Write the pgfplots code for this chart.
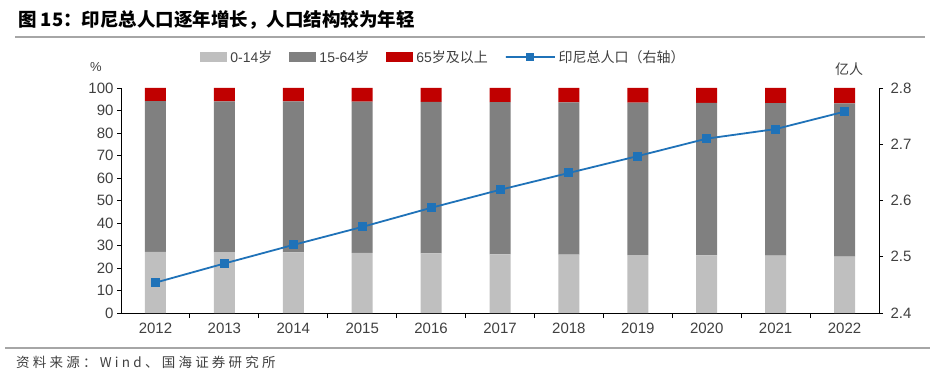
\documentclass[border=0pt]{standalone}
\usepackage{pgfplots}
\pgfplotsset{compat=1.18}
\usepackage{pgfplotstable}
\usepackage{fontspec}
\setmainfont{Liberation Sans}
\newfontfamily\cjk{Noto Sans CJK SC}
\definecolor{lightg}{HTML}{BFBFBF}
\definecolor{darkg}{HTML}{808080}
\definecolor{redc}{HTML}{C00000}
\definecolor{blueline}{HTML}{1F72B8}
\definecolor{txt}{HTML}{404040}
\definecolor{rule}{HTML}{A6A6A6}

\pgfplotsset{
  longline legend/.style={legend image code/.code={\draw[mark repeat=2, mark phase=2, ##1] plot coordinates {(0pt,0pt) (14pt,0pt) (28pt,0pt)};}},
  boxlegend/.style={legend image code/.code={\fill[##1] (0pt,-5pt) rectangle (27pt,5pt);}},
}

\pgfplotstableread{
x a b c p
0 27.2 67.0 5.8 2.454
1 27.1 67.0 5.9 2.488
2 26.9 67.1 6.0 2.521
3 26.7 67.2 6.1 2.553
4 26.5 67.3 6.2 2.587
5 26.1 67.6 6.3 2.619
6 26.0 67.6 6.4 2.649
7 25.7 67.8 6.5 2.679
8 25.6 67.8 6.6 2.710
9 25.5 67.8 6.7 2.727
10 25.1 68.1 6.8 2.758
}\agedata

\begin{document}
\begin{tikzpicture}
\useasboundingbox (0pt,0pt) rectangle (937pt,389pt);
% title
\node[anchor=base west, inner sep=0pt, font=\cjk\bfseries\fontsize{18.5}{20}\selectfont] at (18pt,362pt) {图 15：印尼总人口逐年增长，人口结构较为年轻};
\draw[rule, line width=2pt] (15pt,352pt) -- (925pt,352pt);
\draw[rule, line width=2pt] (5pt,41pt) -- (930pt,41pt);
\node[anchor=base west, inner sep=0pt, text=txt, font=\cjk\addfontfeature{LetterSpace=24}\fontsize{13.5}{15}\selectfont] at (16pt,22pt) {资料来源：Wind、国海证券研究所};
% unit labels
\node[text=txt, font=\fontsize{13}{14}\selectfont] at (96pt,322pt) {\%};
\node[text=txt, font=\cjk\fontsize{14}{15}\selectfont] at (849pt,320pt) {亿人};

\begin{axis}[
  at={(121pt,76pt)}, anchor=south west, scale only axis,
  width=758pt, height=225pt,
  xmin=-0.5, xmax=10.5, ymin=0, ymax=100,
  ybar stacked, bar width=21pt,
  axis x line*=bottom, axis y line*=left,
  axis line style={line width=0.9pt, black},
  xtick={0,...,10},
  xticklabels={2012,2013,2014,2015,2016,2017,2018,2019,2020,2021,2022},
  minor xtick={0.5,1.5,...,9.5},
  major x tick style={draw=none},
  minor x tick style={draw=black, line width=0.9pt},
  ytick={0,10,...,100},
  y tick style={draw=black, line width=0.9pt},
  tick align=outside,
  major tick length=4pt, minor tick length=5pt,
  /pgf/number format/assume math mode=true,
  ticklabel style={text=txt, font=\fontsize{15}{15}\selectfont},
  xticklabel style={yshift=-2pt},
  legend columns=4,
  legend style={draw=none, fill=none, at={(0.1006,1.138)}, anchor=west,
    font=\fontsize{14}{15}\selectfont, text=txt,
    /tikz/every even column/.append style={column sep=14pt},
    nodes={inner xsep=3pt}},
]
\addplot[fill=lightg, draw=none, boxlegend] table[x=x,y=a]{\agedata};
\addlegendentry{0-14{\cjk 岁}}
\addplot[fill=darkg, draw=none, boxlegend] table[x=x,y=b]{\agedata};
\addlegendentry{15-64{\cjk 岁}}
\addplot[fill=redc, draw=none, boxlegend] table[x=x,y=c]{\agedata};
\addlegendentry{65{\cjk 岁及以上}}
\addlegendimage{blueline, line width=1.8pt, mark=square*, mark size=3pt, mark options={solid, fill=blueline}, longline legend}
\addlegendentry{{\cjk 印尼总人口（右轴）}}
\end{axis}

\begin{axis}[
  at={(121pt,76pt)}, anchor=south west, scale only axis,
  width=758pt, height=225pt,
  xmin=-0.5, xmax=10.5, ymin=2.4, ymax=2.8,
  axis y line*=right, axis x line=none,
  axis line style={line width=0.9pt, black},
  ytick={2.4,2.5,2.6,2.7,2.8},
  y tick style={draw=black, line width=0.9pt},
  tick align=outside, major tick length=4pt,
  /pgf/number format/assume math mode=true,
  yticklabel style={/pgf/number format/fixed, /pgf/number format/precision=1, /pgf/number format/fixed zerofill, text=txt, font=\fontsize{15}{15}\selectfont, xshift=4pt},
]
\addplot[blueline, line width=1.8pt, mark=square*, mark size=3.6pt, mark options={solid, fill=blueline}] table[x=x,y=p]{\agedata};
\end{axis}
\end{tikzpicture}
\end{document}
